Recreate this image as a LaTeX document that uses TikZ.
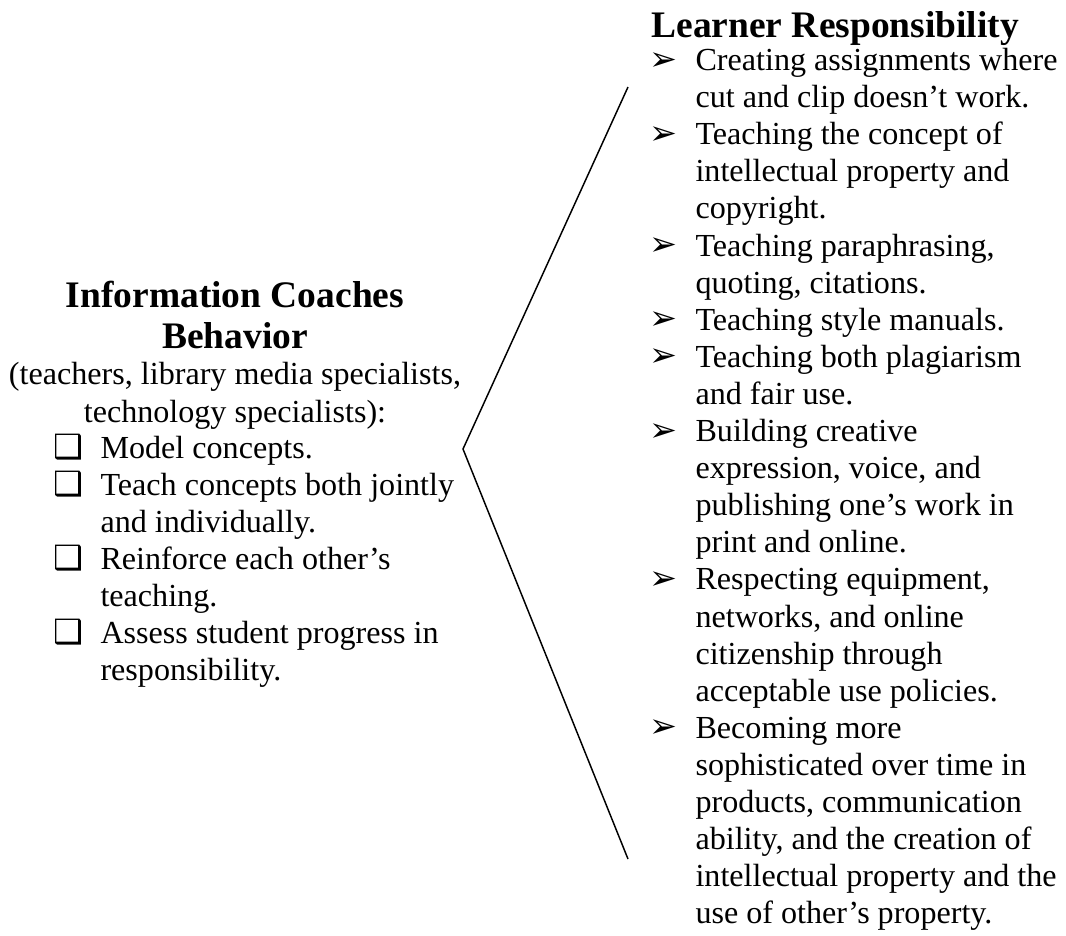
\documentclass[tikz,border=0pt]{standalone}
\usepackage{fontspec}
\setmainfont{Liberation Serif}
\newfontfamily\dingfont{DejaVu Sans}
\newcommand{\corps}{\fontsize{12}{13.865}\selectfont}
\newcommand{\grand}{\fontsize{14}{15.3}\selectfont\bfseries}
\newcommand{\fleche}[3]{\node[puce] (p#1) at (649,#2) {➢};
	\node[texte] (t#1) at (695,#2) {\strut#3}}
\newcommand{\boite}[3]{\node[puce] (b#1) at (53,#2) {❑};
	\node[texte] (g#1) at (100,#2) {\strut#3}}

\begin{document}
\begin{tikzpicture}[x=0.3737pt, y=-0.3737pt,
	texte/.style={anchor=north west, yshift=9.7055pt, align=left, inner sep=0pt, font=\corps},
	puce/.style={anchor=base west, inner sep=0pt, font=\dingfont\fontsize{12.5}{14}\selectfont},
	titre/.style={align=center, inner sep=0pt, font=\grand}]
\useasboundingbox (0,0) rectangle (1066,936);
%The bracket
	\coordinate (haut) at (628,87);
	\coordinate (pointe) at (463,449);
	\coordinate (bas) at (628,859);
	\draw[line width=0.55pt] (haut) -- (pointe) -- (bas);
%Left side
	\node[titre, anchor=base] (gtitre) at (235,348) {Information Coaches\\Behavior};
	\node[inner sep=0pt, font=\corps, align=center, anchor=base] (qui) at (235,422)
		{(teachers, library media specialists,\\technology specialists):};
	\boite{1}{458}{Model concepts.};
	\boite{2}{495}{Teach concepts both jointly\\and individually.};
	\boite{3}{569}{Reinforce each other’s\\teaching.};
	\boite{4}{643}{Assess student progress in\\responsibility.};
%Right side
	\node[titre, anchor=base west] (dtitre) at (651,37) {Learner Responsibility};
	\fleche{1}{70}{Creating assignments where\\cut and clip doesn’t work.};
	\fleche{2}{144.2}{Teaching the concept of\\intellectual property and\\copyright.};
	\fleche{3}{255.5}{Teaching paraphrasing,\\quoting, citations.};
	\fleche{4}{329.7}{Teaching style manuals.};
	\fleche{5}{366.8}{Teaching both plagiarism\\and fair use.};
	\fleche{6}{441}{Building creative\\expression, voice, and\\publishing one’s work in\\print and online.};
	\fleche{7}{589.4}{Respecting equipment,\\networks, and online\\citizenship through\\acceptable use policies.};
	\fleche{8}{737.8}{Becoming more\\sophisticated over time in\\products, communication\\ability, and the creation of\\intellectual property and the\\use of other’s property.};
\end{tikzpicture}
\end{document}
